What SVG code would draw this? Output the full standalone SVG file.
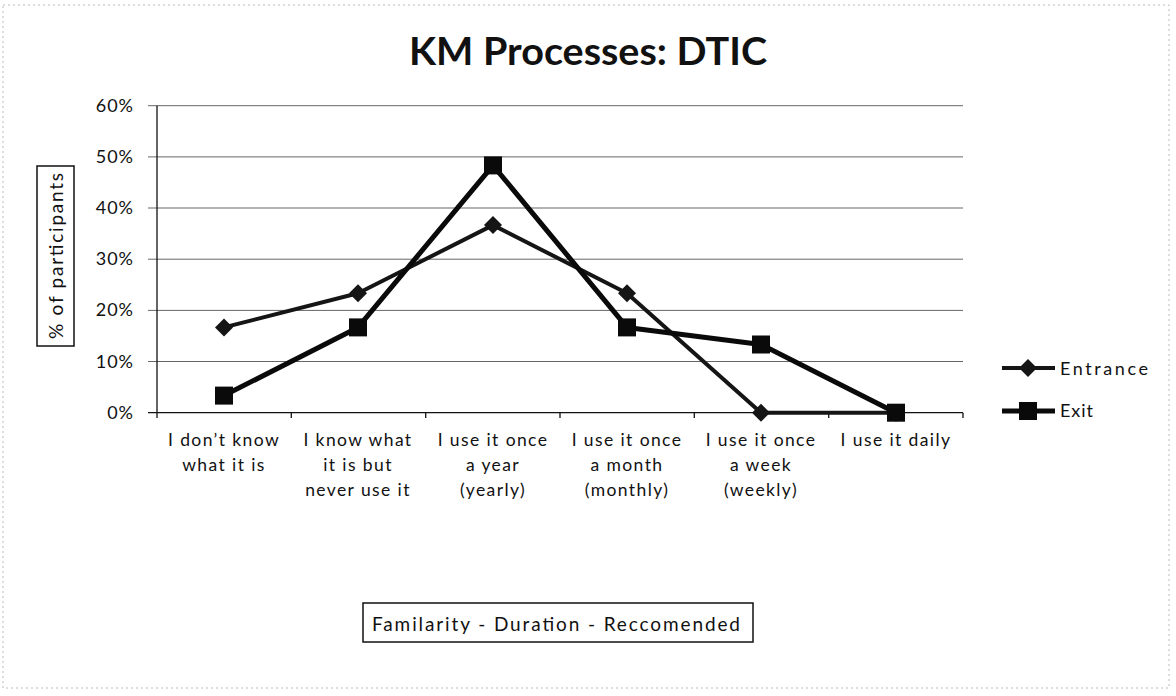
<svg xmlns="http://www.w3.org/2000/svg" width="1176" height="696" viewBox="0 0 1176 696">
<defs>
<style>
text{font-family:Lato,"Liberation Sans",sans-serif;fill:#111}
.grid{stroke:#666;stroke-width:1}
.axis{stroke:#111;stroke-width:1.3;fill:none}
.tick{font-size:18px;text-anchor:end;letter-spacing:1px}
.xl{font-size:17.5px;text-anchor:middle;letter-spacing:1.4px}
.ent{stroke:#151515;stroke-width:4;fill:none;stroke-linejoin:round}
.exi{stroke:#0a0a0a;stroke-width:5;fill:none;stroke-linejoin:round}
.box{fill:#fff;stroke:#111;stroke-width:1.5}
</style>
<path id="dia" d="M0,-9 L9,0 L0,9 L-9,0 Z" fill="#151515"/>
<rect id="sq" x="-9" y="-9" width="18" height="18" fill="#0a0a0a"/>
</defs>
<rect x="3" y="5" width="1166" height="683" fill="#fff" stroke="#bbb" stroke-width="1" stroke-dasharray="2 3"/>
<g id="title"><text x="409" y="65" font-size="38" font-weight="bold" textLength="358" lengthAdjust="spacingAndGlyphs">KM Processes: DTIC</text></g>
<g id="gridlines">
<line class="grid" x1="148" y1="105.7" x2="963" y2="105.7"/>
<line class="grid" x1="148" y1="156.9" x2="963" y2="156.9"/>
<line class="grid" x1="148" y1="208.0" x2="963" y2="208.0"/>
<line class="grid" x1="148" y1="259.2" x2="963" y2="259.2"/>
<line class="grid" x1="148" y1="310.4" x2="963" y2="310.4"/>
<line class="grid" x1="148" y1="361.5" x2="963" y2="361.5"/>
</g>
<g id="axes">
<line class="axis" x1="157" y1="105.7" x2="157" y2="418"/>
<line class="axis" x1="148" y1="412.7" x2="963" y2="412.7"/>
<path class="axis" d="M291.3,412.7V418 M425.7,412.7V418 M560,412.7V418 M694.3,412.7V418 M828.7,412.7V418 M963,412.7V418"/>
</g>
<g id="yticks">
<text class="tick" x="134" y="112">60%</text>
<text class="tick" x="134" y="163">50%</text>
<text class="tick" x="134" y="214">40%</text>
<text class="tick" x="134" y="265">30%</text>
<text class="tick" x="134" y="316">20%</text>
<text class="tick" x="134" y="368">10%</text>
<text class="tick" x="134" y="419">0%</text>
</g>
<g id="ylabel">
<rect class="box" x="37" y="166" width="37" height="180"/>
<text transform="translate(63,256) rotate(-90)" font-size="19" text-anchor="middle" textLength="166" lengthAdjust="spacing">% of participants</text>
</g>
<g id="xlabels">
<text class="xl" x="224" y="446">I don’t know</text>
<text class="xl" x="224" y="471">what it is</text>
<text class="xl" x="358" y="446">I know what</text>
<text class="xl" x="358" y="471">it is but</text>
<text class="xl" x="358" y="496">never use it</text>
<text class="xl" x="493" y="446">I use it once</text>
<text class="xl" x="493" y="471">a year</text>
<text class="xl" x="493" y="496">(yearly)</text>
<text class="xl" x="627" y="446">I use it once</text>
<text class="xl" x="627" y="471">a month</text>
<text class="xl" x="627" y="496">(monthly)</text>
<text class="xl" x="761" y="446">I use it once</text>
<text class="xl" x="761" y="471">a week</text>
<text class="xl" x="761" y="496">(weekly)</text>
<text class="xl" x="896" y="446">I use it daily</text>
</g>
<g id="connectors">
<polyline class="ent" points="224,327.4 358,293.3 493,225.1 627,293.3 761,412.7 896,412.7"/>
<polyline class="exi" points="224,395.6 358,327.4 493,165.4 627,327.4 761,344.5 896,412.7"/>
</g>
<g id="entrance-markers">
<use href="#dia" x="224" y="327.4"/><use href="#dia" x="358" y="293.3"/><use href="#dia" x="493" y="225.1"/><use href="#dia" x="627" y="293.3"/><use href="#dia" x="761" y="412.7"/><use href="#dia" x="896" y="412.7"/>
</g>
<g id="exit-markers">
<use href="#sq" x="224" y="395.6"/><use href="#sq" x="358" y="327.4"/><use href="#sq" x="493" y="165.4"/><use href="#sq" x="627" y="327.4"/><use href="#sq" x="761" y="344.5"/><use href="#sq" x="896" y="412.7"/>
</g>
<g id="legend">
<line class="ent" x1="1002" y1="368" x2="1055" y2="368"/>
<use href="#dia" x="1028" y="368"/>
<text x="1060" y="375" font-size="18" textLength="88" lengthAdjust="spacing">Entrance</text>
<line class="exi" x1="1002" y1="411" x2="1055" y2="411"/>
<use href="#sq" x="1028" y="411"/>
<text x="1060" y="417" font-size="18" textLength="33" lengthAdjust="spacing">Exit</text>
</g>
<g id="xtitle">
<rect class="box" x="363" y="603" width="390" height="39"/>
<text x="372" y="631" font-size="19" textLength="368" lengthAdjust="spacing">Familarity - Duration  - Reccomended</text>
</g>
</svg>
